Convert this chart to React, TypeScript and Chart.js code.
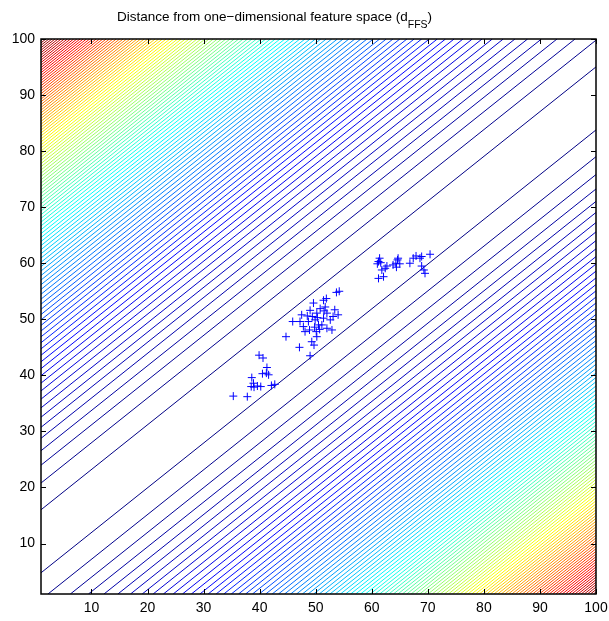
import React, { useEffect, useRef } from "react";
import { Chart, registerables } from "chart.js";

Chart.register(...registerables);

// ---- data ----
const tickValues = [10, 20, 30, 40, 50, 60, 70, 80, 90, 100];
const axisMin = 1;
const axisMax = 100;

const pointsX = [
  35.3, 37.8, 38.6, 38.5, 39.0, 39.6, 40.2, 39.9, 40.6, 41.3, 40.5, 41.2, 41.6, 42.1, 42.7, 38.9,
  44.7, 47.1, 49.0, 45.9, 47.2, 47.5, 47.8, 48.1, 48.5, 48.9, 49.3, 49.6, 50.2, 49.9, 50.5, 50.1,
  50.2, 49.7, 51.4, 51.7, 52.0, 52.6, 51.4, 51.1, 52.9, 52.0, 53.4, 54.0, 53.1, 53.7, 54.2, 50.8,
  49.4, 48.7, 50.7, 51.5, 49.0, 50.3, 49.8, 51.9,
  61.4, 61.2, 61.0, 61.6, 61.8, 61.2, 62.1, 62.4, 62.7, 63.8, 64.3, 64.6, 64.7, 65.0, 64.4, 66.8,
  67.4, 67.9, 68.6, 68.9, 70.4, 68.9, 69.5, 69.3,
];
const pointsY = [
  36.3, 36.2, 39.6, 38.0, 37.9, 38.1, 38.0, 43.6, 43.1, 41.4, 40.3, 40.4, 40.1, 38.2, 38.4, 38.6,
  46.9, 45.0, 43.5, 49.6, 49.6, 50.8, 48.7, 47.8, 50.6, 48.1, 46.0, 52.9, 51.1, 49.9, 49.0, 47.8,
  46.9, 45.4, 53.4, 52.2, 51.1, 49.9, 50.2, 49.0, 48.1, 48.4, 51.7, 50.8, 50.5, 54.8, 55.0, 51.9,
  50.5, 49.6, 48.2, 51.5, 51.6, 50.3, 48.6, 53.7,
  60.9, 60.3, 59.9, 60.1, 58.8, 57.3, 57.6, 59.1, 59.5, 59.7, 60.0, 60.6, 60.9, 59.9, 59.3, 60.0,
  60.9, 61.3, 60.9, 61.2, 61.6, 59.5, 58.2, 58.8,
];

// one-dimensional feature space (principal axis) : y = featureIntercept + featureSlope * (x - 1)
const featureIntercept = 10.4;
const featureSlope = 0.798;
// contoured field: dFFS = squared distance from the feature axis, evenly spaced levels
const firstLevel = 19.3;
const levelStep = 46.7;

function clamp01(v: number) {
  return Math.max(0, Math.min(1, v));
}
function jet(t: number) {
  const r = clamp01(Math.min(4 * t - 1.5, -4 * t + 4.5));
  const g = clamp01(Math.min(4 * t - 0.5, -4 * t + 3.5));
  const b = clamp01(Math.min(4 * t + 0.5, -4 * t + 2.5));
  return `rgb(${Math.round(r * 255)},${Math.round(g * 255)},${Math.round(b * 255)})`;
}

function buildContours() {
  const norm = Math.sqrt(1 + featureSlope * featureSlope);
  const dffs = (x: number, y: number) => {
    const d = (y - (featureIntercept + featureSlope * (x - 1))) / norm;
    return d * d;
  };
  const corners = [
    [axisMin, axisMin],
    [axisMin, axisMax],
    [axisMax, axisMin],
    [axisMax, axisMax],
  ];
  const fMax = Math.max(...corners.map(([x, y]) => dffs(x, y)));
  const fMin = 0;
  const sets: any[] = [];
  for (let L = firstLevel; L < fMax; L += levelStep) {
    const d = Math.sqrt(L);
    const voff = d * norm;
    const color = jet((L - fMin) / (fMax - fMin));
    for (const sgn of [1, -1]) {
      const b = featureIntercept + sgn * voff;
      const xAtMin = 1 + (axisMin - b) / featureSlope;
      const xAtMax = 1 + (axisMax - b) / featureSlope;
      const x0 = Math.max(axisMin, xAtMin);
      const x1 = Math.min(axisMax, xAtMax);
      if (x1 <= x0) continue;
      sets.push({
        data: [
          { x: x0, y: b + featureSlope * (x0 - 1) },
          { x: x1, y: b + featureSlope * (x1 - 1) },
        ],
        showLine: true,
        pointRadius: 0,
        borderColor: color,
        borderWidth: 1,
        fill: false,
        order: 1,
      });
    }
  }
  return sets;
}

const FONT = "'Liberation Sans', Arial, Helvetica, sans-serif";

const framePlugin = {
  id: "frame",
  afterDatasetsDraw(chart: any) {
    const { ctx, chartArea: a, scales } = chart;
    ctx.save();
    ctx.strokeStyle = "#000";
    ctx.lineWidth = 1;
    const tl = 5;
    ctx.beginPath();
    for (const v of tickValues) {
      const px = Math.round(scales.x.getPixelForValue(v)) + 0.5;
      ctx.moveTo(px, a.bottom);
      ctx.lineTo(px, a.bottom - tl);
      ctx.moveTo(px, a.top);
      ctx.lineTo(px, a.top + tl);
      const py = Math.round(scales.y.getPixelForValue(v)) + 0.5;
      ctx.moveTo(a.left, py);
      ctx.lineTo(a.left + tl, py);
      ctx.moveTo(a.right, py);
      ctx.lineTo(a.right - tl, py);
    }
    ctx.stroke();
    ctx.lineWidth = 1.5;
    ctx.strokeRect(a.left, a.top, a.right - a.left, a.bottom - a.top);
    ctx.restore();
  },
  afterDraw(chart: any) {
    const { ctx } = chart;
    ctx.save();
    ctx.fillStyle = "#000";
    ctx.textBaseline = "alphabetic";
    const mainFont = `13.5px ${FONT}`;
    const subFont = `10.5px ${FONT}`;
    const part1 = "Distance from one\u2212dimensional feature space (d";
    const sub = "FFS";
    const part2 = ")";
    ctx.font = mainFont;
    const w1 = ctx.measureText(part1).width;
    const w3 = ctx.measureText(part2).width;
    ctx.font = subFont;
    const w2 = ctx.measureText(sub).width;
    const total = w1 + w2 + w3;
    const centerX = 274.5;
    let x = centerX - total / 2;
    const base = 21;
    ctx.font = mainFont;
    ctx.fillText(part1, x, base);
    x += w1;
    ctx.font = subFont;
    ctx.fillText(sub, x, base + 7);
    x += w2;
    ctx.font = mainFont;
    ctx.fillText(part2, x, base);
    ctx.restore();
  },
};

export default function App() {
  const ref = useRef<HTMLCanvasElement | null>(null);
  useEffect(() => {
    if (!ref.current) return;
    const scatter = {
      data: pointsX.map((x, i) => ({ x, y: pointsY[i] })),
      showLine: false,
      pointStyle: "cross",
      pointRadius: 4,
      borderColor: "#0000ff",
      backgroundColor: "#0000ff",
      borderWidth: 1,
      order: 0,
    };
    const axis = (fit: "w" | "h") => ({
      type: "linear",
      min: axisMin,
      max: axisMax,
      grid: { display: false, drawTicks: false },
      border: { display: false },
      ticks: {
        color: "#000",
        font: { family: FONT, size: 14 },
        padding: 6,
        autoSkip: false,
        maxRotation: 0,
        callback: (v: any) => String(v),
      },
      afterBuildTicks: (scale: any) => {
        scale.ticks = tickValues.map((v) => ({ value: v }));
      },
      afterFit: (scale: any) => {
        if (fit === "w") {
          scale.width = 41;
          scale.paddingTop = 0;
          scale.paddingBottom = 0;
        } else {
          scale.height = 27;
          scale.paddingLeft = 0;
          scale.paddingRight = 0;
        }
      },
    });
    const chart = new Chart(ref.current, {
      type: "scatter",
      data: { datasets: [scatter, ...buildContours()] as any },
      options: {
        responsive: false,
        animation: false,
        layout: { padding: { top: 39, right: 13, left: 0, bottom: 0 } },
        plugins: { legend: { display: false }, tooltip: { enabled: false }, title: { display: false } },
        scales: { x: axis("h") as any, y: axis("w") as any },
        events: [],
      },
      plugins: [framePlugin],
    });
    return () => chart.destroy();
  }, []);
  return (
    <div style={{ position: "absolute", left: 0, top: 0, width: 609, height: 621, background: "#fff" }}>
      <canvas ref={ref} width={609} height={621} style={{ display: "block" }} />
    </div>
  );
}
